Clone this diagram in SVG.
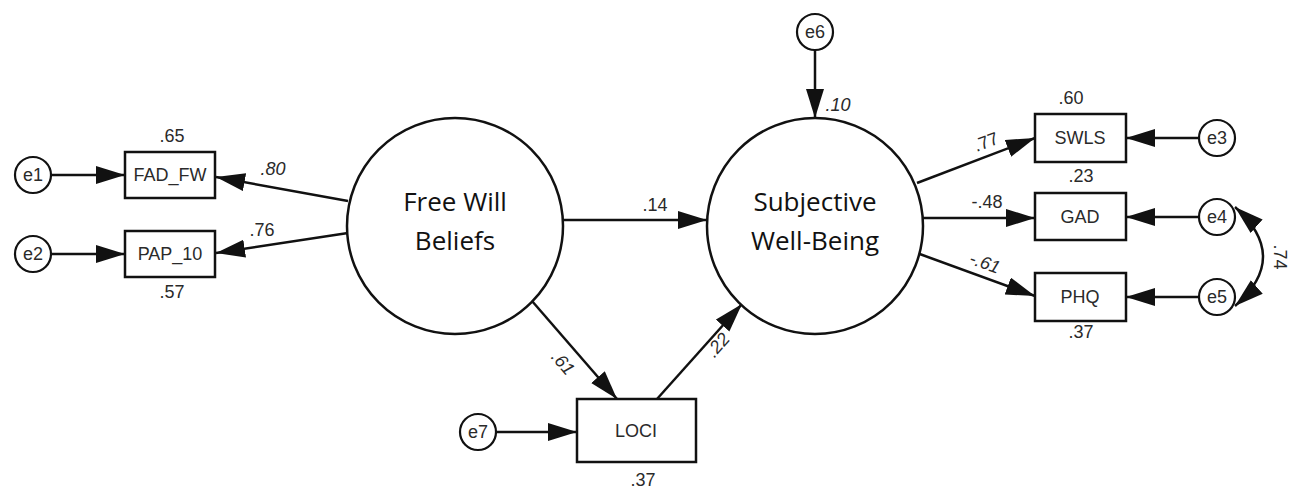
<svg xmlns="http://www.w3.org/2000/svg" width="1294" height="494" viewBox="0 0 1294 494">
  <style>
    .line { fill: none; stroke: #111; stroke-width: 2.5; }
    .box { fill: #fff; stroke: #111; stroke-width: 2.5; }
    .err { fill: #fff; stroke: #111; stroke-width: 2.2; }
    .lat { fill: #fff; stroke: #111; stroke-width: 2.5; }
    .lbl { font-family: "Liberation Sans", Arial, sans-serif; font-size: 18px; fill: #2a2a2a; text-anchor: middle; }
    .num { font-family: "Liberation Sans", Arial, sans-serif; font-size: 18px; fill: #2a2a2a; text-anchor: middle; }
    .it { font-style: italic; }
    .big { font-family: "Open Sans", "Noto Sans", sans-serif; font-size: 26px; fill: #111; text-anchor: middle; }
  </style>
  <defs>
    <marker id="head" markerUnits="userSpaceOnUse" markerWidth="32" markerHeight="20" refX="29" refY="9" orient="auto-start-reverse">
      <path d="M0,0 L29,9 L0,18 Z" fill="#111"/>
    </marker>
  </defs>

  <rect width="1294" height="494" fill="#fff"/>

  <!-- connectors -->
  <g id="connectors">
    <line class="line" x1="51" y1="175" x2="125" y2="175" marker-end="url(#head)"/>
    <line class="line" x1="51" y1="254" x2="125" y2="254" marker-end="url(#head)"/>
    <line class="line" x1="348" y1="201" x2="216" y2="177" marker-end="url(#head)"/>
    <line class="line" x1="348" y1="233" x2="216" y2="253" marker-end="url(#head)"/>
    <line class="line" x1="563" y1="220" x2="707" y2="220" marker-end="url(#head)"/>
    <line class="line" x1="532" y1="301" x2="617" y2="399" marker-end="url(#head)"/>
    <line class="line" x1="657" y1="399" x2="742" y2="304" marker-end="url(#head)"/>
    <line class="line" x1="496" y1="432" x2="577" y2="432" marker-end="url(#head)"/>
    <line class="line" x1="815" y1="50" x2="815" y2="118" marker-end="url(#head)"/>
    <line class="line" x1="917" y1="183" x2="1035" y2="138" marker-end="url(#head)"/>
    <line class="line" x1="922" y1="218" x2="1035" y2="218" marker-end="url(#head)"/>
    <line class="line" x1="917" y1="253" x2="1035" y2="296" marker-end="url(#head)"/>
    <line class="line" x1="1199" y1="138" x2="1126" y2="138" marker-end="url(#head)"/>
    <line class="line" x1="1199" y1="217" x2="1126" y2="217" marker-end="url(#head)"/>
    <line class="line" x1="1199" y1="297" x2="1126" y2="297" marker-end="url(#head)"/>
    <path class="line" d="M1235,207 Q1291,257 1235,306" marker-start="url(#head)" marker-end="url(#head)"/>

    <text class="num it" x="273" y="175">.80</text>
    <text class="num" x="262" y="236">.76</text>
    <text class="num" x="655" y="211">.14</text>
    <text class="num it" x="838" y="111">.10</text>
    <text class="num it" transform="translate(563,363) rotate(49)" y="6">.61</text>
    <text class="num it" transform="translate(718,345) rotate(-49)" y="6">.22</text>
    <text class="num" transform="translate(986,142) rotate(-21)" y="6">.77</text>
    <text class="num" x="987" y="208">-.48</text>
    <text class="num it" transform="translate(985,263) rotate(20)" y="6">-.61</text>
    <text class="num" transform="translate(1280,257) rotate(90)" y="6">.74</text>
  </g>

  <!-- observed indicators of free will beliefs -->
  <g id="e1">
    <circle class="err" cx="33" cy="175" r="18"/>
    <text class="lbl" x="33" y="181">e1</text>
  </g>
  <g id="e2">
    <circle class="err" cx="33" cy="254" r="18"/>
    <text class="lbl" x="33" y="260">e2</text>
  </g>
  <g id="FAD_FW">
    <rect class="box" x="125" y="152" width="90" height="46"/>
    <text class="lbl" x="170" y="181">FAD_FW</text>
    <text class="num" x="172" y="142">.65</text>
  </g>
  <g id="PAP_10">
    <rect class="box" x="125" y="231" width="90" height="46"/>
    <text class="lbl" x="170" y="260">PAP_10</text>
    <text class="num" x="172" y="298">.57</text>
  </g>

  <!-- latent variables -->
  <g id="FreeWillBeliefs">
    <circle class="lat" cx="455" cy="226" r="108"/>
    <text class="big" x="455" y="211">Free Will</text>
    <text class="big" x="455" y="250">Beliefs</text>
  </g>
  <g id="SubjectiveWellBeing">
    <circle class="lat" cx="815" cy="226" r="108"/>
    <text class="big" x="815" y="211">Subjective</text>
    <text class="big" x="815" y="250">Well-Being</text>
  </g>

  <g id="e6">
    <circle class="err" cx="815" cy="32" r="18"/>
    <text class="lbl" x="815" y="38">e6</text>
  </g>

  <!-- mediator -->
  <g id="LOCI">
    <rect class="box" x="577" y="399" width="119" height="63"/>
    <text class="lbl" x="636" y="437">LOCI</text>
    <text class="num" x="643" y="486">.37</text>
  </g>
  <g id="e7">
    <circle class="err" cx="478" cy="432" r="18"/>
    <text class="lbl" x="478" y="438">e7</text>
  </g>

  <!-- well-being indicators -->
  <g id="SWLS">
    <rect class="box" x="1035" y="114" width="91" height="48"/>
    <text class="lbl" x="1080" y="144">SWLS</text>
    <text class="num" x="1071" y="104">.60</text>
  </g>
  <g id="GAD">
    <rect class="box" x="1035" y="193" width="91" height="47"/>
    <text class="lbl" x="1080" y="223">GAD</text>
    <text class="num" x="1081" y="182">.23</text>
  </g>
  <g id="PHQ">
    <rect class="box" x="1035" y="273" width="91" height="48"/>
    <text class="lbl" x="1080" y="303">PHQ</text>
    <text class="num" x="1081" y="338">.37</text>
  </g>
  <g id="e3">
    <circle class="err" cx="1217" cy="138" r="18"/>
    <text class="lbl" x="1217" y="144">e3</text>
  </g>
  <g id="e4">
    <circle class="err" cx="1217" cy="217" r="18"/>
    <text class="lbl" x="1217" y="223">e4</text>
  </g>
  <g id="e5">
    <circle class="err" cx="1217" cy="297" r="18"/>
    <text class="lbl" x="1217" y="303">e5</text>
  </g>
</svg>
